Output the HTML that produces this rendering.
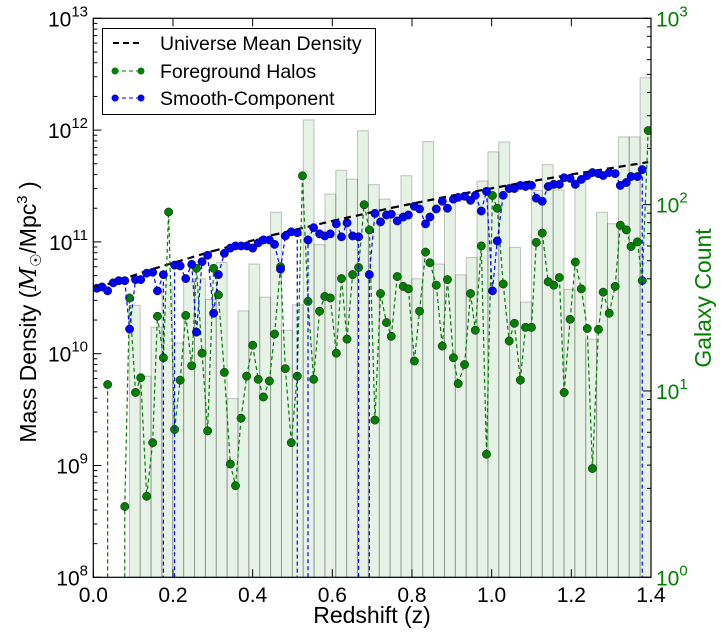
<!DOCTYPE html>
<html><head><meta charset="utf-8"><style>
html,body{margin:0;padding:0;background:#fff;overflow:hidden;width:721px;height:632px;}
svg{display:block;font-family:"Liberation Sans","DejaVu Sans",sans-serif;overflow:hidden;}
</style></head><body>
<svg id="chart" width="721" height="632" viewBox="0 0 721 632" xmlns="http://www.w3.org/2000/svg">
<g id="bars"></g>
<g id="meanG"></g>
<g id="greenG"></g>
<g id="blueG"></g>
<g id="axes"></g>
<g id="legend">
<rect x="102.5" y="28.5" width="273" height="86" fill="#fff" stroke="#000" stroke-width="1"/>
<g>
<line x1="113" y1="43" x2="143" y2="43" stroke="#000" stroke-width="2" stroke-dasharray="6,4"/>
<text x="160" y="50" font-size="19.5">Universe Mean Density</text></g>
<g>
<line x1="115" y1="71" x2="141" y2="71" stroke="#007f00" stroke-width="1" stroke-dasharray="4,3"/>
<circle cx="115" cy="71" r="3.5" fill="#007f00"/><circle cx="141" cy="71" r="3.5" fill="#007f00"/>
<text x="160" y="78" font-size="19.5">Foreground Halos</text></g>
<g>
<line x1="115" y1="98" x2="141" y2="98" stroke="#0000ff" stroke-width="1" stroke-dasharray="4,3"/>
<circle cx="115" cy="98" r="3.5" fill="#0000ff"/><circle cx="141" cy="98" r="3.5" fill="#0000ff"/>
<text x="160" y="105" font-size="19.5">Smooth-Component</text></g>
</g>
<text x="372" y="623" font-size="23" text-anchor="middle">Redshift (z)</text>
<text transform="translate(36,312) rotate(-90)" font-size="23" text-anchor="middle">Mass Density (<tspan font-family="'DejaVu Serif',serif" font-style="italic">M</tspan><tspan font-size="15" dy="5">☉</tspan><tspan dy="-5">/Mpc</tspan><tspan font-size="15" dy="-9">3</tspan><tspan dy="9"> )</tspan></text>
<text transform="translate(711,298) rotate(-90)" font-size="23" fill="#007f00" text-anchor="middle">Galaxy Count</text>
</svg>
<script>
const histCounts=[28.8,12,22,37,18.1,38.5,40,31,49,9.1,26.9,48,31.9,91,21.2,29,285,61,114,153,137,249,128,107,89,143,40,218,48,104,42,52,134,192,217,59,30,119,164,120,35,136,19,91,79,231,231,480];
const histStart=0.0904;
const histWidth=0.02728;
const meanZ=[0.036,0.15,0.3,0.45,0.6,0.75,0.9,1.05,1.2,1.393];
const meanDensity=[4.19e10,5.73e10,8.28e10,1.15e11,1.54e11,2.02e11,2.59e11,3.25e11,4.01e11,5.17e11];
const greenZ=[0.009,0.022,0.036,0.050,0.064,0.079,0.091,0.106,0.119,0.134,0.149,0.161,0.176,0.189,0.204,0.218,0.232,0.247,0.259,0.273,0.287,0.302,0.314,0.329,0.344,0.357,0.371,0.385,0.400,0.414,0.427,0.442,0.455,0.470,0.482,0.497,0.512,0.525,0.539,0.553,0.568,0.581,0.595,0.610,0.623,0.637,0.651,0.666,0.680,0.693,0.707,0.721,0.736,0.748,0.763,0.778,0.791,0.806,0.819,0.834,0.845,0.861,0.876,0.889,0.904,0.916,0.932,0.947,0.959,0.974,0.987,1.002,1.014,1.029,1.044,1.057,1.072,1.085,1.100,1.112,1.127,1.142,1.156,1.170,1.182,1.197,1.210,1.225,1.240,1.253,1.268,1.280,1.295,1.310,1.323,1.338,1.350,1.366,1.378,1.393];
const greenMass=[0,0,5.3e9,0,0,4.3e8,3.15e10,4.5e9,6.1e9,5.3e8,1.6e9,2.16e10,9.2e9,1.85e11,2.1e9,5.8e9,2.2e10,7.8e9,5.8e10,1.01e10,2.04e9,5.8e10,3.36e10,6.8e9,1.03e9,6.6e8,2.65e9,6.3e9,1.19e10,5.9e9,4.1e9,5.7e9,1.5e10,6.0e10,7.35e9,1.6e9,6.3e9,3.9e11,2.94e10,5.9e9,2.4e10,3.25e10,3.15e10,1.01e10,4.7e10,1.35e10,5.1e10,5.9e10,2.15e11,1.28e11,2.55e9,3.45e10,1.9e10,1.43e10,4.9e10,4.0e10,3.8e10,8.6e9,2.4e10,8.1e10,6.5e10,4.1e10,1.17e10,4.6e10,9.2e9,5.4e9,8.0e9,3.45e10,1.62e10,9.2e10,1.26e9,2.6e11,2.0e11,4.2e10,1.3e10,1.87e10,5.8e9,1.72e10,1.72e10,9.9e10,1.2e11,4.4e10,4.1e10,4.8e10,4.5e9,2.03e10,6.6e10,3.8e10,1.68e10,9.4e8,1.65e10,3.55e10,2.3e10,4.0e10,1.41e11,1.28e11,9.1e10,1.0e11,4.5e10,9.9e11];
const blueZ=greenZ.slice();
const blueMass=[3.85e10,3.95e10,3.65e10,4.3e10,4.5e10,4.5e10,1.66e10,4.6e10,4.6e10,5.25e10,5.35e10,3.65e10,5.1e10,0,6.2e10,6.1e10,4.7e10,6.3e10,1.56e10,6.65e10,7.6e10,2.3e10,5.1e10,7.9e10,8.8e10,9.2e10,9.2e10,9.2e10,8.8e10,9.8e10,1.04e11,1.04e11,9.5e10,5.7e10,1.13e11,1.23e11,1.21e11,0,1.04e11,1.34e11,1.18e11,1.13e11,1.18e11,1.45e11,1.11e11,1.48e11,1.13e11,1.11e11,0,5.1e10,1.8e11,1.51e11,1.74e11,1.77e11,1.54e11,1.67e11,1.74e11,2.08e11,1.97e11,1.45e11,1.67e11,1.97e11,2.31e11,2.0e11,2.41e11,2.5e11,2.56e11,2.35e11,2.61e11,1.89e11,2.83e11,3.65e10,1.02e11,2.61e11,3.0e11,3.0e11,3.2e11,3.13e11,3.2e11,2.46e11,2.31e11,3.13e11,3.27e11,3.27e11,3.75e11,3.7e11,3.27e11,3.62e11,3.92e11,4.17e11,4.08e11,3.92e11,4.17e11,4.08e11,3.2e11,3.4e11,3.84e11,3.84e11,4.43e11,0];
const xTicks=[0,0.2,0.4,0.6,0.8,1.0,1.2,1.4];
const xTickLabels=["0.0","0.2","0.4","0.6","0.8","1.0","1.2","1.4"];
const leftExps=[8,9,10,11,12,13];
const rightExps=[0,1,2,3];

const L=93.3,R=651,T=18.3,B=577.3;
const NS="http://www.w3.org/2000/svg";
function xs(z){return L+(z/1.4)*(R-L);}
function yl(v){return B-(Math.log10(v)-8)*(B-T)/5;}
function yr(c){if(c<=0)return B;return B-Math.log10(c)*(B-T)/3;}
function mk(tag,attrs,parent){const e=document.createElementNS(NS,tag);for(const k in attrs)e.setAttribute(k,attrs[k]);parent.appendChild(e);return e;}

const clip=mk('clipPath',{id:'pc'},document.getElementById('chart'));
mk('rect',{x:L,y:T,width:R-L,height:B-T},clip);

const bars=document.getElementById('bars');
histCounts.forEach((c,i)=>{
 const x0=xs(histStart+i*histWidth),x1=xs(histStart+(i+1)*histWidth);
 const r=mk('rect',{x:x0,y:yr(c),width:x1-x0,height:B-yr(c),fill:'rgba(0,128,0,0.1)',stroke:'rgba(0,0,0,0.22)','stroke-width':1},bars);
 
 
});

function series(g,zs,vs,color,marker){
 g.setAttribute('clip-path','url(#pc)');
 let d='';
 for(let i=0;i<zs.length-1;i++){
  const a=vs[i],b=vs[i+1];
  if(a>0&&b>0){d+='M'+xs(zs[i]).toFixed(2)+' '+yl(a).toFixed(2)+'L'+xs(zs[i+1]).toFixed(2)+' '+yl(b).toFixed(2);}
  else if(a>0){d+='M'+xs(zs[i]).toFixed(2)+' '+yl(a).toFixed(2)+'L'+xs(zs[i]).toFixed(2)+' '+B;}
  else if(b>0){d+='M'+xs(zs[i+1]).toFixed(2)+' '+B+'L'+xs(zs[i+1]).toFixed(2)+' '+yl(b).toFixed(2);}
 }
 const pl=mk('path',{d:d,fill:'none',stroke:color,'stroke-width':marker?1.2:2.2,'stroke-dasharray':marker?'4,3':'7,5'},g);
 
 
 if(marker){zs.forEach((z,i)=>{if(vs[i]>0){const c=mk('circle',{cx:xs(z),cy:yl(vs[i]),r:4.2,fill:color,stroke:'#000','stroke-width':0.4},g);
  
  }});}
}
series(document.getElementById('meanG'),meanZ,meanDensity,'#000',false);
series(document.getElementById('greenG'),greenZ,greenMass,'#007f00',true);
series(document.getElementById('blueG'),blueZ,blueMass,'#0000ff',true);

const ax=document.getElementById('axes');
mk('rect',{x:L,y:T,width:R-L,height:B-T,fill:'none',stroke:'#000','stroke-width':1.2},ax);
xTicks.forEach((t,i)=>{
 const x=xs(t);
 mk('line',{x1:x,y1:B,x2:x,y2:B-8,stroke:'#000'},ax);
 mk('line',{x1:x,y1:T,x2:x,y2:T+8,stroke:'#000'},ax);
 const tx=mk('text',{x:x,y:602,'font-size':21,'text-anchor':'middle'},ax);
 tx.textContent=xTickLabels[i];
 
 
});
leftExps.forEach((e,i)=>{
 const y=yl(Math.pow(10,e));
 mk('line',{x1:L,y1:y,x2:L+8,y2:y,stroke:'#000'},ax);
 if(i<leftExps.length-1){for(let m=2;m<10;m++){const ym=yl(m*Math.pow(10,e));mk('line',{x1:L,y1:ym,x2:L+4,y2:ym,stroke:'#000'},ax);}}
 const tx=mk('text',{x:88,y:y+8,'font-size':21,'text-anchor':'end'},ax);
 tx.innerHTML='10<tspan font-size="15" dy="-10">'+e+'</tspan>';
 
 
});
rightExps.forEach((e,i)=>{
 const y=yr(Math.pow(10,e));
 mk('line',{x1:R,y1:y,x2:R-8,y2:y,stroke:'#000'},ax);
 if(i<rightExps.length-1){for(let m=2;m<10;m++){const ym=yr(m*Math.pow(10,e));mk('line',{x1:R,y1:ym,x2:R-4,y2:ym,stroke:'#000'},ax);}}
 const tx=mk('text',{x:656,y:y+8,'font-size':21,fill:'#007f00'},ax);
 tx.innerHTML='10<tspan font-size="15" dy="-10">'+e+'</tspan>';
 
 
});
</script>
</body></html>
